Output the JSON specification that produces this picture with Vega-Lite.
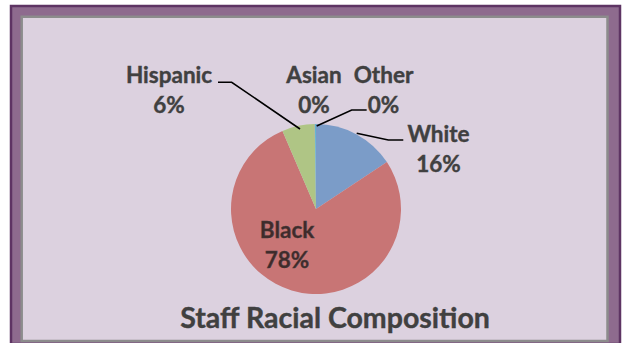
{
  "$schema": "https://vega.github.io/schema/vega-lite/v6.json",
  "width": 609,
  "height": 338,
  "autosize": {"type": "none"},
  "padding": {"left": 11, "top": 6, "right": 2, "bottom": 0},
  "background": "#ffffff",
  "config": {"view": {"fill": "#8E6B8E", "stroke": "#5E3463", "strokeWidth": 2.5}},
  "datasets": {
    "slices": [
      {"group": "White", "share": 15.7, "rank": 1},
      {"group": "Black", "share": 77.85, "rank": 2},
      {"group": "Hispanic", "share": 6.2, "rank": 3},
      {"group": "Asian", "share": 0.05, "rank": 4},
      {"group": "Other", "share": 0.2, "rank": 5}
    ],
    "labels": [
      {"group": "Hispanic", "label": "Hispanic\n6%", "lx": -1.729, "ly": 1.482},
      {"group": "Asian", "label": "Asian\n0%", "lx": -0.024, "ly": 1.482},
      {"group": "Other", "label": "Other\n0%", "lx": 0.794, "ly": 1.482},
      {"group": "White", "label": "White\n16%", "lx": 1.441, "ly": 0.788},
      {"group": "Black", "label": "Black\n78%", "lx": -0.341, "ly": -0.345}
    ],
    "leaders": [
      {"lead": "Hispanic", "pt": 1, "x": -1.153, "y": 1.491},
      {"lead": "Hispanic", "pt": 2, "x": -0.992, "y": 1.491},
      {"lead": "Hispanic", "pt": 3, "x": -0.188, "y": 0.941},
      {"lead": "Other", "pt": 1, "x": 0.008, "y": 0.976},
      {"lead": "Other", "pt": 2, "x": 0.42, "y": 1.165},
      {"lead": "Other", "pt": 3, "x": 0.596, "y": 1.165},
      {"lead": "White", "pt": 1, "x": 0.479, "y": 0.891},
      {"lead": "White", "pt": 2, "x": 0.851, "y": 0.812},
      {"lead": "White", "pt": 3, "x": 1.027, "y": 0.812}
    ],
    "heading": [{"title": "Staff Racial Composition", "tx": 0.224, "ty": -1.404}]
  },
  "layer": [
    {
      "data": {"values": [{"panel": "plot area"}]},
      "mark": {"type": "rect", "fill": "#DCD1DF", "stroke": "#8C8C8C", "strokeWidth": 2.5},
      "encoding": {
        "x": {"datum": -3.4624, "type": "quantitative", "scale": {"domain": [-3.5882, 3.5765], "zero": false, "nice": false}, "axis": null},
        "x2": {"datum": 3.4294},
        "y": {"datum": 2.2624, "type": "quantitative", "scale": {"domain": [-1.5882, 2.3882], "zero": false, "nice": false}, "axis": null},
        "y2": {"datum": -1.5529}
      }
    },
    {
      "data": {"name": "slices"},
      "mark": {"type": "arc", "radius": 85},
      "encoding": {
        "theta": {"field": "share", "type": "quantitative", "stack": true},
        "order": {"field": "rank", "type": "quantitative"},
        "color": {
          "field": "group",
          "type": "nominal",
          "scale": {
            "domain": ["White", "Black", "Hispanic", "Asian", "Other"],
            "range": ["#7B9CC8", "#C87575", "#AFC585", "#9D87B7", "#62B6CF"]
          },
          "legend": null
        },
        "x": {"datum": 0, "type": "quantitative"},
        "y": {"datum": 0, "type": "quantitative"}
      }
    },
    {
      "data": {"name": "leaders"},
      "mark": {"type": "line", "color": "#000000", "strokeWidth": 1.6},
      "encoding": {
        "x": {"field": "x", "type": "quantitative"},
        "y": {"field": "y", "type": "quantitative"},
        "detail": {"field": "lead"},
        "order": {"field": "pt", "type": "quantitative"}
      }
    },
    {
      "data": {"name": "labels"},
      "mark": {"type": "text", "font": "Lato", "fontWeight": "bold", "fontSize": 22.5, "lineBreak": "\n", "lineHeight": 30, "align": "center", "baseline": "alphabetic", "stroke": "#404040", "strokeWidth": 0.4},
      "encoding": {
        "x": {"field": "lx", "type": "quantitative"},
        "y": {"field": "ly", "type": "quantitative"},
        "text": {"field": "label"},
        "color": {"condition": {"test": "datum.group === 'Black'", "value": "#402A2A"}, "value": "#404040"}
      }
    },
    {
      "data": {"name": "heading"},
      "mark": {"type": "text", "font": "Lato", "fontWeight": "bold", "fontSize": 28.5, "align": "center", "baseline": "alphabetic", "color": "#404040", "stroke": "#404040", "strokeWidth": 0.4},
      "encoding": {
        "x": {"field": "tx", "type": "quantitative"},
        "y": {"field": "ty", "type": "quantitative"},
        "text": {"field": "title"}
      }
    }
  ]
}
